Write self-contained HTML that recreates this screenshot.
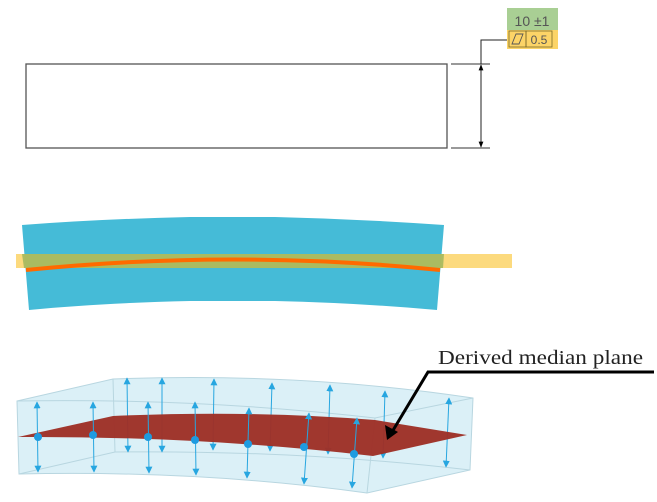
<!DOCTYPE html>
<html><head><meta charset="utf-8"><style>
html,body{margin:0;padding:0;background:#fff;}
svg{display:block;}
</style></head><body>
<svg width="657" height="502" viewBox="0 0 657 502" xmlns="http://www.w3.org/2000/svg">
<defs>
<marker id="ab" viewBox="0 0 10 10" refX="9" refY="5" markerWidth="7" markerHeight="7" markerUnits="userSpaceOnUse" orient="auto-start-reverse"><path d="M0,0 L10,5 L0,10 z" fill="#27a6e0"/></marker>
<marker id="ak" viewBox="0 0 10 10" refX="9" refY="5" markerWidth="9" markerHeight="6" markerUnits="userSpaceOnUse" orient="auto-start-reverse"><path d="M0,1 L10,5 L0,9 z" fill="#000"/></marker>
</defs>
<rect x="26" y="64" width="421" height="84" fill="none" stroke="#555" stroke-width="1.3"/>
<line x1="451" y1="64" x2="490" y2="64" stroke="#333" stroke-width="1"/>
<line x1="451" y1="148" x2="490" y2="148" stroke="#333" stroke-width="1"/>
<line x1="481" y1="65" x2="481" y2="147" stroke="#222" stroke-width="1" marker-start="url(#ak)" marker-end="url(#ak)"/>
<polyline points="481,64 481,40 508,40" fill="none" stroke="#222" stroke-width="1"/>
<rect x="507" y="8" width="51" height="22" fill="#a9cf94"/>
<rect x="507" y="30" width="51" height="19" fill="#fcd467"/>
<rect x="509" y="31" width="17" height="16" fill="none" stroke="#7a6a2a" stroke-width="0.8"/>
<rect x="526" y="31" width="26" height="16" fill="none" stroke="#7a6a2a" stroke-width="0.8"/>
<polygon points="512,44 516,34 523,34 519,44" fill="none" stroke="#555" stroke-width="0.9"/>
<text x="539" y="44" font-family="Liberation Sans, sans-serif" font-size="12" fill="#555" text-anchor="middle">0.5</text>
<text x="532" y="26" font-family="Liberation Sans, sans-serif" font-size="14" fill="#555" text-anchor="middle">10 ±1</text>
<path d="M22,225 Q100,219 190,217 L275,217 Q360,219 444,225 L437,310 Q360,303 275,301 L190,301 Q100,303 29,310 Z" fill="#45bbd7"/>
<rect x="16" y="254" width="496" height="14" fill="#fcd467" opacity="0.85"/>
<path d="M22,254 L444,254 L443,268 L24,268 Z" fill="#a4b85e" opacity="0.9"/>
<path d="M26,270 Q235,249 440,270" fill="none" stroke="#ff6a00" stroke-width="4"/>
<path d="M17,401 L113,379 Q300,372 473,398 L470,470 L367,493 Q200,470 19,474 Z" fill="#dbf0f7" stroke="#b8d6e0" stroke-width="1"/>
<path d="M17,401 Q200,398 375,418 L473,398" fill="none" stroke="#b8d6e0" stroke-width="1"/>
<line x1="375" y1="418" x2="367" y2="493" stroke="#b8d6e0" stroke-width="1"/>
<line x1="113" y1="379" x2="115" y2="452" stroke="#b8d6e0" stroke-width="1"/>
<path d="M19,474 L115,452 Q300,450 470,470" fill="none" stroke="#b8d6e0" stroke-width="1"/>
<g stroke="#27a6e0" stroke-width="1" marker-start="url(#ab)" marker-end="url(#ab)">
<line x1="127" y1="378" x2="128" y2="452"/>
<line x1="162" y1="378" x2="162" y2="452"/>
<line x1="214" y1="379" x2="213" y2="450"/>
<line x1="272" y1="383" x2="270" y2="451"/>
<line x1="330" y1="385" x2="328" y2="454"/>
<line x1="385" y1="391" x2="383" y2="458"/>
<line x1="449" y1="398" x2="446" y2="467"/>
</g>
<path d="M18,437 L113,416 Q250,410 375,420 L467,435 L373,456 Q200,436 18,437 Z" fill="#9e3127" opacity="0.97"/>
<g stroke="#27a6e0" stroke-width="1" marker-start="url(#ab)" marker-end="url(#ab)">
<line x1="37" y1="402" x2="38" y2="472"/>
<line x1="93" y1="402" x2="94" y2="472"/>
<line x1="148" y1="402" x2="149" y2="473"/>
<line x1="195" y1="402" x2="196" y2="475"/>
<line x1="249" y1="408" x2="247" y2="478"/>
<line x1="309" y1="413" x2="304" y2="484"/>
<line x1="357" y1="418" x2="352" y2="488"/>
</g>
<g fill="#1e9be0">
<circle cx="38" cy="437" r="4"/><circle cx="93" cy="435" r="4"/><circle cx="148" cy="437" r="4"/><circle cx="195" cy="440" r="4"/><circle cx="248" cy="444" r="4"/><circle cx="304" cy="447" r="4"/><circle cx="354" cy="454" r="4"/>
</g>
<text x="438" y="364" font-family="Liberation Serif, serif" font-size="20" fill="#222" textLength="205" lengthAdjust="spacingAndGlyphs">Derived median plane</text>
<polyline points="654,372 428,372 392,432" fill="none" stroke="#000" stroke-width="3"/>
<path d="M387,440 L385,425 L398,432 Z" fill="#000"/>
</svg>
</body></html>
